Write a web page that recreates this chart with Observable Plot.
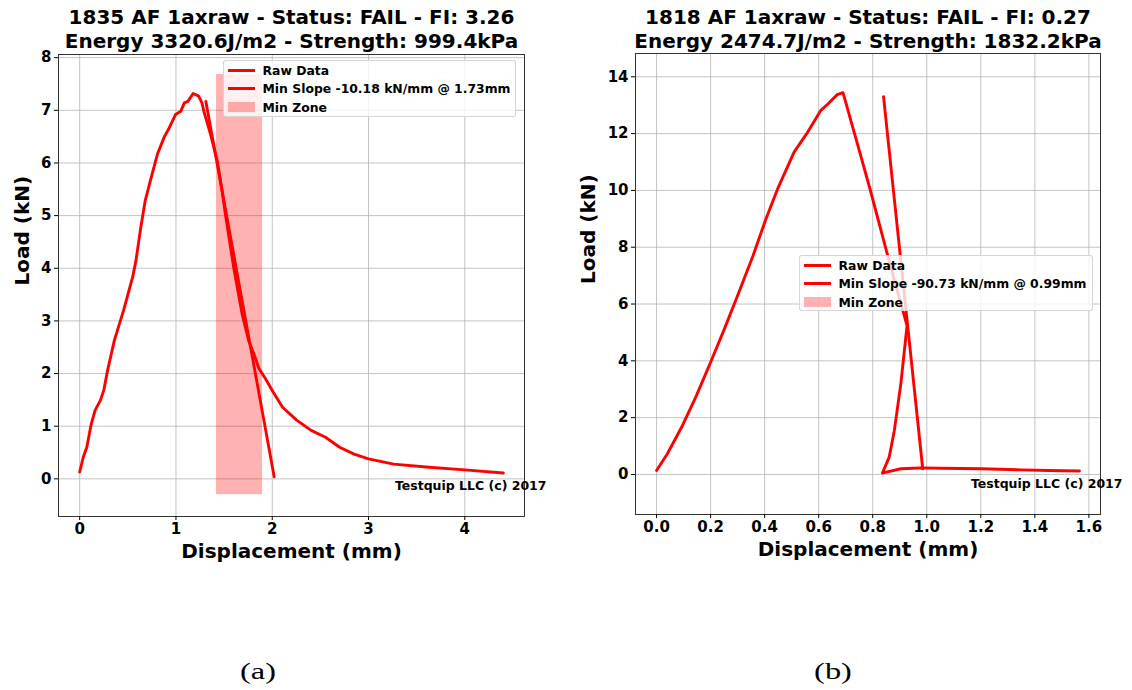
<!DOCTYPE html>
<html><head><meta charset="utf-8">
<script src="https://cdn.jsdelivr.net/npm/d3@7"></script>
<script src="https://cdn.jsdelivr.net/npm/@observablehq/plot@0.6"></script>
<style>
body{margin:0;background:#fff;}
#wrap{position:relative;width:1132px;height:690px;overflow:hidden;background:#fff;}
.panel{position:absolute;top:0;}
.legend{position:absolute;background:rgba(255,255,255,0.8);border:1px solid rgba(204,204,204,0.8);border-radius:3px;box-sizing:border-box;font:bold 12.4px "DejaVu Sans",sans-serif;color:#000;}
.row{height:18.5px;display:flex;align-items:center;white-space:nowrap;}
.sw{width:27px;margin-left:4px;margin-right:7.5px;flex:none;}
.cap{position:absolute;font-family:"Liberation Serif","Times New Roman",serif;font-size:24px;color:#000;transform:scaleX(1.35);transform-origin:center;width:60px;text-align:center;line-height:1;}
</style></head><body><div id="wrap"></div>
<script>
// ---------- Panel (a) data ----------
const titleA = ["1835 AF 1axraw - Status: FAIL - FI: 3.26", "Energy 3320.6J/m2 - Strength: 999.4kPa"];
const legendA = ["Raw Data", "Min Slope -10.18 kN/mm @ 1.73mm", "Min Zone"];
const rawAx = [0.00,0.037,0.074,0.12,0.16,0.215,0.25,0.29,0.36,0.456,0.55,0.585,0.63,0.68,0.735,0.81,0.88,0.92,0.995,1.05,1.087,1.124,1.178,1.236,1.27,1.29,1.36,1.43,1.48,1.514,1.60,1.687,1.756,1.81,1.86,1.93,2.0,2.107,2.256,2.404,2.553,2.70,2.85,3.0,3.26,3.63,4.0,4.40];
const rawAy = [0.13,0.41,0.60,1.04,1.30,1.49,1.68,2.06,2.63,3.20,3.83,4.15,4.72,5.28,5.67,6.18,6.50,6.63,6.92,6.98,7.14,7.17,7.32,7.27,7.14,6.98,6.54,6.03,5.46,5.02,4.01,3.13,2.62,2.37,2.10,1.90,1.68,1.36,1.11,0.92,0.79,0.60,0.47,0.38,0.28,0.22,0.17,0.11];
const slopeAx = [1.31, 2.02];
const slopeAy = [7.17, 0.04];
const zoneAx = [1.42, 1.90];
const zoneAy = [-0.3, 7.68];
const xTicksA = [0, 1, 2, 3, 4];
const yTicksA = [0, 1, 2, 3, 4, 5, 6, 7, 8];

// ---------- Panel (b) data ----------
const titleB = ["1818 AF 1axraw - Status: FAIL - FI: 0.27", "Energy 2474.7J/m2 - Strength: 1832.2kPa"];
const legendB = ["Raw Data", "Min Slope -90.73 kN/mm @ 0.99mm", "Min Zone"];
const rawBx = [0,0.04,0.093,0.145,0.2,0.25,0.3,0.357,0.403,0.45,0.509,0.555,0.608,0.635,0.668,0.69,0.74,0.79,0.85,0.89,0.927,0.904,0.88,0.861,0.836,0.867,0.904,0.95,0.982,1.05,1.2,1.35,1.45,1.565];
const rawBy = [0.14,0.73,1.67,2.72,3.95,5.1,6.3,7.7,8.95,10.1,11.35,11.99,12.82,13.05,13.37,13.44,11.75,10.05,7.9,6.5,5.24,3.19,1.55,0.61,0.05,0.12,0.2,0.22,0.23,0.22,0.2,0.16,0.14,0.12];
const slopeBx = [0.84, 0.985];
const slopeBy = [13.3, 0.2];
const xTicksB = [0, 0.2, 0.4, 0.6, 0.8, 1.0, 1.2, 1.4, 1.6];
const yTicksB = [0, 2, 4, 6, 8, 10, 12, 14];

const xLabel = "Displacement (mm)";
const yLabel = "Load (kN)";
const credit = "Testquip LLC (c) 2017";
const captions = ["(a)", "(b)"];

const wrap = document.getElementById("wrap");
const toPts = (xs, ys) => xs.map((x, i) => ({x, y: ys[i]}));

function panel(opts) {
  const raw = toPts(opts.rawx, opts.rawy);
  const slope = toPts(opts.slopex, opts.slopey);
  const marks = [
    Plot.gridX(opts.xticks, {stroke: "#b0b0b0", strokeOpacity: 0.75, strokeWidth: 1}),
    Plot.gridY(opts.yticks, {stroke: "#b0b0b0", strokeOpacity: 0.75, strokeWidth: 1}),
  ];
  if (opts.zonex) {
    marks.push(Plot.rect([0], {x1: () => opts.zonex[0], x2: () => opts.zonex[1], y1: () => opts.zoney[0], y2: () => opts.zoney[1], fill: "red", fillOpacity: 0.3}));
  }
  marks.push(
    Plot.line(raw, {x: "x", y: "y", stroke: "red", strokeWidth: 2.9, strokeLinejoin: "round"}),
    Plot.line(slope, {x: "x", y: "y", stroke: "red", strokeWidth: 2.9}),
    Plot.frame({stroke: "#333", strokeWidth: 1}),
    Plot.axisX(opts.xticks, {tickSize: 4, tickPadding: 3, label: null, tickFormat: opts.xfmt, stroke: "#000", fill: "#000"}),
    Plot.axisY(opts.yticks, {tickSize: 4, tickPadding: 3, label: null, tickFormat: d => String(d), stroke: "#000", fill: "#000"}),
    Plot.text([opts.title[0]], {text: d => d, frameAnchor: "top", lineAnchor: "bottom", dy: opts.t1, fontSize: 20, fill: "#000"}),
    Plot.text([opts.title[1]], {text: d => d, frameAnchor: "top", lineAnchor: "bottom", dy: opts.t2, fontSize: 20, fill: "#000"}),
    Plot.text([xLabel], {text: d => d, frameAnchor: "bottom", lineAnchor: "middle", dy: 35, fontSize: 20, fill: "#000"}),
    Plot.text([yLabel], {text: d => d, frameAnchor: "left", lineAnchor: "middle", rotate: -90, dx: opts.ylabdx, fontSize: 20, fill: "#000"}),
    Plot.text([credit], {text: d => d, frameAnchor: "bottom-right", textAnchor: "end", lineAnchor: "middle", dx: 22, dy: -31, fontSize: 12.5, fill: "#000"})
  );
  const svg = Plot.plot({
    width: 566, height: 570,
    marginLeft: opts.ml, marginRight: opts.mr, marginTop: opts.mt, marginBottom: opts.mb,
    x: {domain: opts.xdom},
    y: {domain: opts.ydom},
    style: {fontFamily: "'DejaVu Sans', sans-serif", fontWeight: "bold", fontSize: "15px", color: "#000", background: "transparent", overflow: "visible"},
    marks
  });
  const div = document.createElement("div");
  div.className = "panel";
  div.style.left = opts.left + "px";
  div.appendChild(svg);
  wrap.appendChild(div);
}

function legend(labels, left, top, width, height) {
  const lg = document.createElement("div");
  lg.className = "legend";
  Object.assign(lg.style, {left: left + "px", top: top + "px", width: width + "px", height: height + "px"});
  labels.forEach((t, i) => {
    const r = document.createElement("div");
    r.className = "row";
    const sw = document.createElement("div");
    sw.className = "sw";
    if (i < 2) { sw.style.height = "3px"; sw.style.background = "red"; }
    else { sw.style.height = "10px"; sw.style.background = "rgba(255,0,0,0.3)"; }
    const tx = document.createElement("span");
    tx.textContent = t;
    r.appendChild(sw); r.appendChild(tx);
    lg.appendChild(r);
  });
  wrap.appendChild(lg);
}

panel({left: 0, ml: 58, mr: 42, mt: 54, mb: 54,
  xdom: [-0.22, 4.62], ydom: [-0.715, 8.06],
  rawx: rawAx, rawy: rawAy, slopex: slopeAx, slopey: slopeAy,
  zonex: zoneAx, zoney: zoneAy,
  xticks: xTicksA, yticks: yTicksA, xfmt: d => String(d),
  title: titleA, t1: -31, t2: -7, ylabdx: -36});

panel({left: 566, ml: 69, mr: 32, mt: 53, mb: 56,
  xdom: [-0.078, 1.643], ydom: [-1.41, 14.82],
  rawx: rawBx, rawy: rawBy, slopex: slopeBx, slopey: slopeBy,
  xticks: xTicksB, yticks: yTicksB, xfmt: d3.format(".1f"),
  title: titleB, t1: -30, t2: -6, ylabdx: -47});

legend(legendA, 223, 60, 293, 57);
legend(legendB, 799, 255, 294, 56);

[[captions[0], 258], [captions[1], 833]].forEach(([t, cx]) => {
  const c = document.createElement("div");
  c.className = "cap";
  c.textContent = t;
  c.style.left = (cx - 30) + "px";
  c.style.top = "659px";
  wrap.appendChild(c);
});
</script>
</body></html>
